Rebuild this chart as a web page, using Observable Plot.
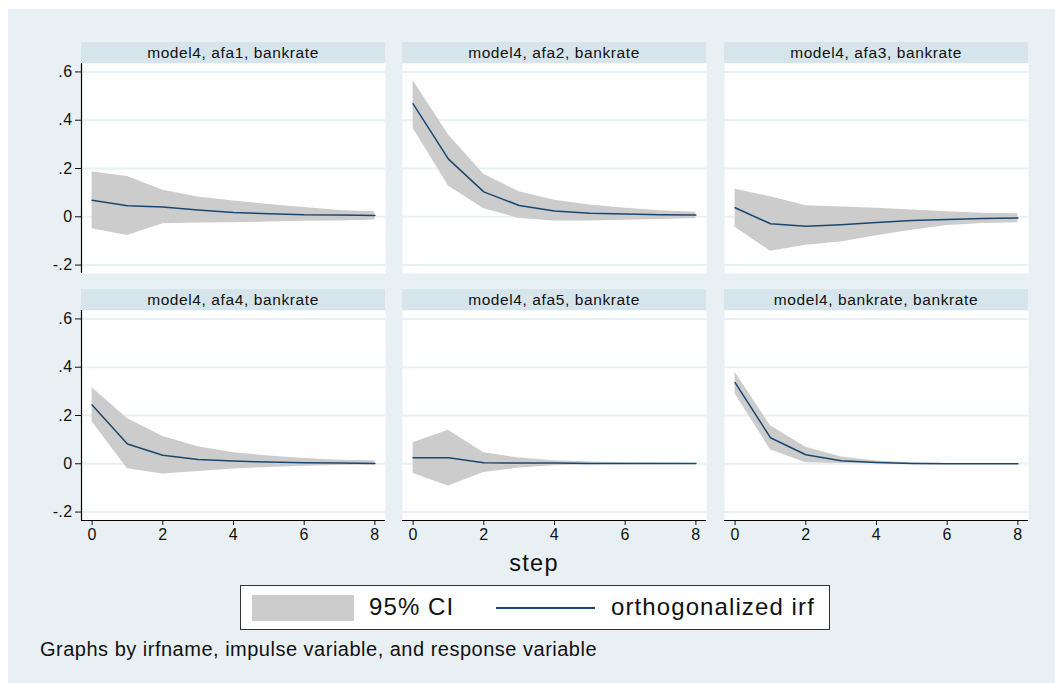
<!DOCTYPE html>
<html>
<head>
<meta charset="utf-8">
<script src="https://cdn.jsdelivr.net/npm/d3@7"></script>
<script src="https://cdn.jsdelivr.net/npm/@observablehq/plot@0.6"></script>
<style>
  html, body { margin: 0; padding: 0; background: #ffffff; }
  body { width: 1055px; height: 683px; position: relative; overflow: hidden;
         font-family: "Liberation Sans", Arial, sans-serif; }
  #bg { position: absolute; left: 8px; top: 9px; width: 1047px; height: 674px; background: #e8f0f3; }
  .hdr { position: absolute; height: 21px; line-height: 21px; background: #d6e5eb; color: #111;
         text-align: center; font-size: 15.5px; letter-spacing: 0.6px; white-space: nowrap; }
  .pan { position: absolute; }
  .pan svg { display: block; overflow: visible; }
  #xlab { position: absolute; left: 434px; width: 200px; top: 550px; text-align: center;
          font-size: 23.5px; letter-spacing: 1.3px; color: #111; }
  #legend { position: absolute; left: 240px; top: 585px; width: 588px; height: 43px;
            background: #fff; border: 1px solid #333; }
  #legend .sw { position: absolute; left: 11px; top: 9px; width: 102px; height: 26px; background: #cccccc; }
  #legend .ln { position: absolute; left: 255px; top: 20.5px; width: 99px; height: 0; border-top: 2px solid #1a476f; }
  #legend .t { position: absolute; top: 6px; font-size: 24px; letter-spacing: 1.1px; color: #111; line-height: 30px; }
  #caption { position: absolute; left: 40px; top: 638px; font-size: 20px; letter-spacing: 0.5px; color: #111; white-space: nowrap; }
</style>
</head>
<body>
<div id="bg"></div>
<div id="root"></div>
<div id="xlab">step</div>
<div id="legend">
  <div class="sw"></div><div class="t" id="lg1" style="left:128px">95% CI</div>
  <div class="ln"></div><div class="t" id="lg2" style="left:370px">orthogonalized irf</div>
</div>
<div id="caption">Graphs by irfname, impulse variable, and response variable</div>
<script>
// ---------- data ----------
const steps = [0, 1, 2, 3, 4, 5, 6, 7, 8];
const panelTitles = [
  "model4, afa1, bankrate", "model4, afa2, bankrate", "model4, afa3, bankrate",
  "model4, afa4, bankrate", "model4, afa5, bankrate", "model4, bankrate, bankrate"
];
const yTicks = [-0.2, 0, 0.2, 0.4, 0.6];
const yTickLabels = ["-.2", "0", ".2", ".4", ".6"];
const xTicks = [0, 2, 4, 6, 8];
const legendLabels = ["95% CI", "orthogonalized irf"];

// afa1 -> bankrate
const irf_afa1 = [0.068, 0.046, 0.040, 0.028, 0.018, 0.0125, 0.008, 0.007, 0.005];
const lo_afa1  = [-0.050, -0.078, -0.029, -0.026, -0.025, -0.022, -0.019, -0.017, -0.013];
const hi_afa1  = [0.185, 0.167, 0.110, 0.082, 0.065, 0.051, 0.038, 0.026, 0.021];
// afa2 -> bankrate
const irf_afa2 = [0.468, 0.239, 0.103, 0.047, 0.024, 0.015, 0.011, 0.008, 0.007];
const lo_afa2  = [0.367, 0.128, 0.033, -0.007, -0.018, -0.017, -0.014, -0.011, -0.007];
const hi_afa2  = [0.565, 0.340, 0.176, 0.104, 0.068, 0.049, 0.035, 0.025, 0.019];
// afa3 -> bankrate
const irf_afa3 = [0.0375, -0.029, -0.039, -0.033, -0.024, -0.015, -0.011, -0.007, -0.0055];
const lo_afa3  = [-0.043, -0.143, -0.118, -0.104, -0.079, -0.056, -0.036, -0.028, -0.025];
const hi_afa3  = [0.114, 0.083, 0.046, 0.040, 0.035, 0.028, 0.021, 0.015, 0.0125];
// afa4 -> bankrate
const irf_afa4 = [0.244, 0.082, 0.035, 0.018, 0.011, 0.007, 0.004, 0.003, 0.0015];
const lo_afa4  = [0.174, -0.021, -0.042, -0.032, -0.022, -0.015, -0.010, -0.007, -0.0055];
const hi_afa4  = [0.315, 0.1875, 0.1125, 0.071, 0.046, 0.032, 0.022, 0.015, 0.0125];
// afa5 -> bankrate
const irf_afa5 = [0.025, 0.025, 0.004, 0.003, 0.003, 0.001, 0.001, 0.001, 0.001];
const lo_afa5  = [-0.040, -0.092, -0.036, -0.018, -0.008, -0.004, -0.0015, -0.0005, 0.0];
const hi_afa5  = [0.0875, 0.139, 0.046, 0.024, 0.0125, 0.007, 0.004, 0.003, 0.001];
// bankrate -> bankrate
const irf_bank = [0.336, 0.108, 0.0375, 0.0125, 0.0055, 0.0015, 0.0005, 0.0005, 0.0005];
const lo_bank  = [0.290, 0.058, 0.004, 0.001, 0.0, 0.0, 0.0, 0.0, 0.0];
const hi_bank  = [0.379, 0.158, 0.068, 0.028, 0.011, 0.004, 0.0015, 0.0005, 0.0005];

const series = [
  [irf_afa1, lo_afa1, hi_afa1], [irf_afa2, lo_afa2, hi_afa2], [irf_afa3, lo_afa3, hi_afa3],
  [irf_afa4, lo_afa4, hi_afa4], [irf_afa5, lo_afa5, hi_afa5], [irf_bank, lo_bank, hi_bank]
];

// ---------- layout ----------
const colLeft = [81, 402, 724];      // plot-area left edges
const plotW = 304, plotH = 210;
const rowHdrTop = [41.5, 289];
const rowPlotTop = [62.5, 309.5];
const xDomain = [-0.3, 8.3], yDomain = [-0.235, 0.635];
const root = document.getElementById("root");

series.forEach(([irf, lo, hi], i) => {
  const r = Math.floor(i / 3), c = i % 3;
  const showY = c === 0, showX = r === 1;
  const rows = steps.map((s, k) => ({step: s, irf: irf[k], lo: lo[k], hi: hi[k]}));

  const hdr = document.createElement("div");
  hdr.className = "hdr";
  hdr.style.left = colLeft[c] + "px";
  hdr.style.top = rowHdrTop[r] + "px";
  hdr.style.width = plotW + "px";
  hdr.textContent = panelTitles[i];
  root.appendChild(hdr);

  const mL = showY ? 41 : 0, mB = showX ? 30 : 0;
  const marks = [
    Plot.frame({fill: "white", stroke: "none"}),
    Plot.ruleY(yTicks, {stroke: "#e8f0f3", strokeWidth: 2}),
    Plot.areaY(rows, {x: "step", y1: "lo", y2: "hi", fill: "#cccccc", curve: "linear"}),
    Plot.lineY(rows, {x: "step", y: "irf", stroke: "#1a476f", strokeWidth: 1.5, curve: "linear"})
  ];
  if (showY) marks.push(Plot.ruleX([xDomain[0]], {stroke: "#000", strokeWidth: 1.2}));
  if (showX) marks.push(Plot.ruleY([yDomain[0]], {stroke: "#000", strokeWidth: 1.2}));

  const svg = Plot.plot({
    width: mL + plotW, height: plotH + mB,
    marginLeft: mL, marginRight: 0, marginTop: 0, marginBottom: mB,
    style: {background: "transparent", color: "#111",
            fontFamily: '"Liberation Sans", Arial, sans-serif', overflow: "visible"},
    x: {domain: xDomain, axis: showX ? "bottom" : null, ticks: xTicks, tickSize: 5,
        tickPadding: 3, label: null},
    y: {domain: yDomain, axis: showY ? "left" : null, ticks: yTicks, tickSize: 6,
        tickPadding: 3, label: null,
        tickFormat: d => yTickLabels[yTicks.findIndex(t => Math.abs(t - d) < 1e-9)]},
    marks
  });
  d3.select(svg).selectAll("g").filter(function () { return this.querySelector("text"); })
    .style("font-size", "16px", "important");
  d3.select(svg).selectAll("text")
    .style("font-size", "16px", "important")
    .style("letter-spacing", "0.4px")
    .style("fill", "#111");
  const wrap = document.createElement("div");
  wrap.className = "pan";
  wrap.style.left = (colLeft[c] - mL) + "px";
  wrap.style.top = rowPlotTop[r] + "px";
  wrap.appendChild(svg);
  root.appendChild(wrap);
});
document.getElementById("lg1").textContent = legendLabels[0];
document.getElementById("lg2").textContent = legendLabels[1];
</script>
</body>
</html>
